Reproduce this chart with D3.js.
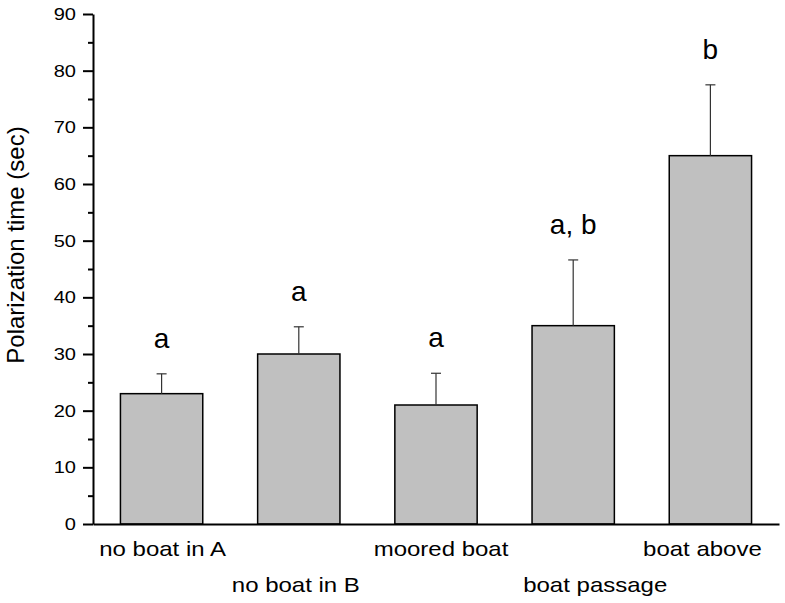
<!DOCTYPE html>
<head>
    <title>Polarization time</title>
    <script src="https://cdnjs.cloudflare.com/ajax/libs/d3/7.8.5/d3.min.js"></script>
    <style>
        body { margin: 0; background: #fff; }
        text { font-family: "Liberation Sans", Arial, sans-serif; fill: #000; }
    </style>
</head>
<body>
    <div id="chart"></div>
    <script type="text/javascript">
        // data
        const categories = ["no boat in A", "no boat in B", "moored boat", "boat passage", "boat above"];
        const means = [23, 30, 21, 35, 65];
        const errors = [3.5, 4.8, 5.6, 11.6, 12.5];
        const letters = ["a", "a", "a", "a, b", "b"];
        const majorTicks = [0, 10, 20, 30, 40, 50, 60, 70, 80, 90];
        const minorTicks = [5, 15, 25, 35, 45, 55, 65, 75, 85];

        // layout
        const width = 785;
        const height = 603;
        const axisX = 93;
        const axisRight = 779;
        const yTop = 14;
        const yBottom = 524;
        const labelRow = [556, 592];           // baselines of the two label rows
        const labelShift = [1, -3, 5, 22, -8]; // labels are not quite centered

        const svg = d3.select("#chart")
            .append("svg")
            .attr("width", width)
            .attr("height", height);

        const xScale = d3.scaleBand()
            .domain(categories)
            .range([axisX, axisRight])
            .paddingInner(0.4)
            .paddingOuter(0.2);

        const yScale = d3.scaleLinear()
            .domain([0, 90])
            .range([yBottom, yTop]);

        // text in the picture is a bit wider than the font
        function stretch(sel, k) {
            sel.each(function() {
                const t = d3.select(this);
                const x = +t.attr("x") || 0;
                const y = +t.attr("y") || 0;
                t.attr("x", 0).attr("y", 0)
                    .attr("transform", "translate(" + x + "," + y + ") scale(" + k + ",1)");
            });
        }

        // Bars
        svg.append("g")
            .selectAll("rect")
            .data(categories)
            .enter()
            .append("rect")
            .attr("x", d => xScale(d))
            .attr("y", (d, i) => yScale(means[i]))
            .attr("width", xScale.bandwidth())
            .attr("height", (d, i) => yScale(0) - yScale(means[i]))
            .attr("fill", "#c0c0c0")
            .attr("stroke", "#000")
            .attr("stroke-width", 1.5);

        // Error bars (upper half only)
        const err = svg.append("g")
            .attr("stroke", "#333")
            .attr("stroke-width", 1.2);
        categories.forEach(function(c, i) {
            const cx = xScale(c) + xScale.bandwidth() / 2;
            err.append("line")
                .attr("x1", cx).attr("x2", cx)
                .attr("y1", yScale(means[i]))
                .attr("y2", yScale(means[i] + errors[i]));
            err.append("line")
                .attr("x1", cx - 5).attr("x2", cx + 5)
                .attr("y1", yScale(means[i] + errors[i]))
                .attr("y2", yScale(means[i] + errors[i]));
        });

        // Significance letters
        svg.append("g")
            .selectAll("text")
            .data(letters)
            .enter()
            .append("text")
            .attr("x", (d, i) => xScale(categories[i]) + xScale.bandwidth() / 2)
            .attr("y", (d, i) => yScale(means[i] + errors[i]) - 26)
            .attr("text-anchor", "middle")
            .attr("font-size", 28)
            .text(d => d);

        // X axis (line only)
        svg.append("g")
            .attr("transform", "translate(0," + yBottom + ")")
            .call(d3.axisBottom(xScale).tickSize(0).tickFormat(""))
            .call(g => g.select(".domain").attr("stroke-width", 2));

        // Category labels in two staggered rows
        const cats = svg.append("g")
            .selectAll("text")
            .data(categories)
            .enter()
            .append("text")
            .attr("x", (d, i) => xScale(d) + xScale.bandwidth() / 2 + labelShift[i])
            .attr("y", (d, i) => labelRow[i % 2])
            .attr("text-anchor", "middle")
            .attr("font-size", 20)
            .text(d => d);
        stretch(cats, 1.2);

        // Y axis: minor ticks, then major ticks with labels
        svg.append("g")
            .attr("transform", "translate(" + axisX + ",0)")
            .call(d3.axisLeft(yScale).tickValues(minorTicks).tickSize(5).tickFormat(""))
            .call(g => g.select(".domain").remove())
            .call(g => g.selectAll(".tick line").attr("stroke-width", 2));

        const yAxis = svg.append("g")
            .attr("transform", "translate(" + axisX + ",0)")
            .call(d3.axisLeft(yScale).tickValues(majorTicks).tickSize(10).tickSizeOuter(0).tickPadding(7));
        yAxis.select(".domain").attr("stroke-width", 2);
        yAxis.selectAll(".tick line").attr("stroke-width", 2);
        yAxis.selectAll(".tick text")
            .attr("font-size", 17)
            .attr("font-family", "'Liberation Sans', Arial, sans-serif");
        stretch(yAxis.selectAll(".tick text"), 1.18);

        // Y label
        svg.append("text")
            .attr("transform", "translate(24," + ((yTop + yBottom) / 2 - 24) + ") rotate(-90)")
            .attr("text-anchor", "middle")
            .attr("font-size", 24)
            .text("Polarization time (sec)");
    </script>
</body>
